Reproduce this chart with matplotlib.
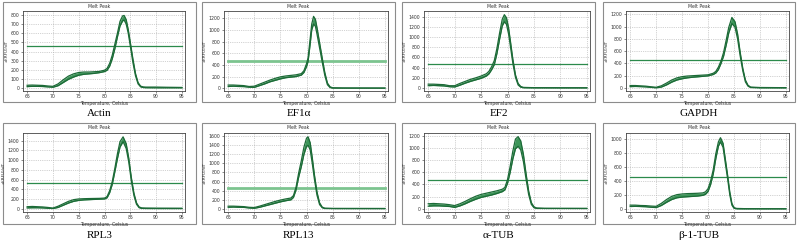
import matplotlib
matplotlib.use("Agg")
import matplotlib.pyplot as plt
from matplotlib.patches import Rectangle

# gene names, in panel order (row by row)
GENES = ["Actin", "EF1\u03b1", "EF2", "GAPDH", "RPL3", "RPL13", "\u03b1-TUB", "\u03b2-1-TUB"]

# melt peak traces: temperature, upper and lower replicate
ACTIN_T = [65, 66, 67, 68, 69, 70, 71, 72, 73, 74, 75, 76, 77, 78, 79, 80, 80.5, 81, 81.5, 82, 82.5, 83, 83.5,
           83.8, 84.2, 84.6, 85, 85.5, 86, 86.5, 87, 87.5, 88, 90, 92, 95]
ACTIN_HI = [30, 32, 30, 28, 22, 18, 45, 90, 130, 155, 170, 175, 175, 178, 182, 195, 215, 270, 360, 480, 600, 730, 790,
            795, 750, 640, 500, 320, 160, 60, 20, 12, 10, 10, 8, 6]
ACTIN_LO = [15, 18, 18, 16, 12, 8, 25, 60, 95, 120, 140, 150, 155, 160, 168, 180, 195, 240, 320, 430, 560, 680, 735,
            745, 700, 600, 460, 280, 135, 45, 12, 5, 3, 2, 2, 2]

EF1A_T = [65, 66, 67, 68, 69, 70, 71, 72, 73, 74, 75, 76, 77, 78, 79, 79.5, 80, 80.3, 80.7, 81, 81.35, 81.7, 82,
          82.5, 83, 83.5, 84, 84.5, 85, 87, 90, 95]
EF1A_HI = [55, 55, 50, 45, 30, 35, 70, 105, 140, 170, 195, 210, 220, 230, 250, 300, 420, 520, 850, 1100, 1230, 1180,
           1040, 780, 520, 270, 90, 25, 8, 5, 4, 3]
EF1A_LO = [30, 35, 30, 28, 18, 15, 45, 75, 110, 135, 160, 180, 190, 200, 225, 270, 370, 460, 760, 1000, 1100, 1060,
           930, 690, 450, 220, 60, 12, 3, 2, 2, 2]

EF2_T = [65, 66, 67, 68, 69, 70, 71, 72, 73, 74, 75, 76, 76.5, 77, 77.5, 78, 78.5, 79, 79.4, 79.8, 80.2, 80.6, 81,
         81.5, 82, 82.5, 83, 85, 90, 95]
EF2_HI = [75, 75, 70, 65, 45, 45, 90, 130, 170, 200, 235, 280, 330, 420, 540, 780, 1080, 1350, 1440, 1380, 1180, 880,
          570, 260, 90, 30, 12, 6, 5, 4]
EF2_LO = [45, 50, 45, 40, 25, 20, 55, 95, 130, 160, 190, 235, 280, 360, 460, 680, 960, 1220, 1300, 1250, 1060, 780,
          490, 210, 60, 15, 5, 3, 2, 2]

GAPDH_T = [65, 66, 67, 68, 69, 70, 71, 72, 73, 74, 75, 76, 77, 78, 79, 80, 81, 81.5, 82, 82.5, 83, 83.5, 84, 84.6,
           85.2, 85.7, 86.2, 86.7, 87.2, 87.7, 88.2, 90, 95]
GAPDH_HI = [40, 40, 35, 30, 20, 12, 35, 80, 130, 165, 185, 195, 200, 205, 210, 215, 240, 270, 340, 440, 580, 780, 990,
            1150, 1080, 880, 580, 320, 130, 45, 15, 8, 5]
GAPDH_LO = [22, 25, 22, 18, 10, 3, 15, 50, 95, 130, 150, 165, 175, 182, 190, 198, 220, 245, 300, 400, 520, 700, 900,
            1050, 990, 800, 520, 280, 100, 30, 8, 3, 2]

RPL3_T = [65, 66, 67, 68, 69, 70, 71, 72, 73, 74, 75, 76, 77, 78, 79, 80, 80.5, 81, 81.5, 82, 82.5, 83, 83.6, 84.2,
          84.7, 85.2, 85.7, 86.2, 86.7, 87.2, 88, 90, 95]
RPL3_HI = [40, 45, 40, 35, 25, 12, 50, 100, 150, 185, 200, 205, 208, 210, 212, 218, 250, 370, 560, 830, 1130, 1380,
           1480, 1340, 1040, 640, 320, 120, 35, 15, 12, 10, 8]
RPL3_LO = [15, 18, 18, 15, 8, 2, 25, 70, 115, 150, 170, 180, 185, 190, 195, 200, 225, 330, 500, 760, 1030, 1270, 1380,
           1240, 960, 570, 270, 90, 20, 5, 3, 2, 2]

RPL13_T = [65, 66, 67, 68, 69, 70, 71, 72, 73, 74, 75, 76, 77, 77.5, 78, 78.5, 79, 79.5, 80, 80.3, 80.7, 81.1, 81.5,
           82, 82.5, 83, 83.5, 85, 90, 95]
RPL13_HI = [55, 55, 50, 45, 30, 25, 55, 90, 125, 160, 190, 215, 235, 290, 480, 790, 1060, 1360, 1560, 1590, 1460, 1130,
            760, 370, 130, 35, 10, 5, 4, 3]
RPL13_LO = [30, 35, 30, 28, 15, 8, 30, 60, 90, 120, 150, 175, 195, 250, 420, 700, 930, 1200, 1380, 1400, 1300, 1000,
            660, 300, 90, 20, 4, 2, 2, 2]

ATUB_T = [65, 66, 67, 68, 69, 70, 71, 72, 73, 74, 75, 76, 77, 78, 79, 79.5, 80, 80.5, 81, 81.5, 82, 82.5, 83, 83.5,
          84, 84.5, 85, 85.5, 87, 90, 95]
ATUB_HI = [80, 85, 80, 75, 65, 50, 80, 120, 165, 205, 235, 255, 275, 295, 320, 350, 480, 700, 950, 1150, 1190, 1120,
           900, 580, 290, 100, 30, 10, 5, 4, 3]
ATUB_LO = [40, 45, 45, 40, 35, 20, 45, 80, 120, 155, 185, 205, 225, 250, 280, 310, 420, 600, 820, 990, 1030, 970, 780,
           490, 230, 70, 15, 4, 2, 2, 2]

BTUB_T = [65, 66, 67, 68, 69, 70, 71, 72, 73, 74, 75, 76, 77, 78, 79, 79.5, 80, 80.5, 81, 81.5, 82, 82.4, 82.9, 83.4,
          83.8, 84.2, 84.6, 85, 85.5, 87, 90, 95]
BTUB_HI = [55, 55, 50, 48, 42, 38, 80, 135, 180, 205, 215, 220, 222, 225, 230, 245, 290, 400, 560, 790, 960, 1020, 940,
           680, 470, 240, 80, 20, 8, 5, 4, 3]
BTUB_LO = [35, 38, 35, 32, 25, 20, 50, 95, 135, 160, 170, 175, 180, 185, 195, 210, 250, 350, 500, 720, 900, 960, 880,
           620, 420, 200, 55, 10, 3, 2, 2, 2]

TEMPS = [ACTIN_T, EF1A_T, EF2_T, GAPDH_T, RPL3_T, RPL13_T, ATUB_T, BTUB_T]
UPPER = [ACTIN_HI, EF1A_HI, EF2_HI, GAPDH_HI, RPL3_HI, RPL13_HI, ATUB_HI, BTUB_HI]
LOWER = [ACTIN_LO, EF1A_LO, EF2_LO, GAPDH_LO, RPL3_LO, RPL13_LO, ATUB_LO, BTUB_LO]

THRESHOLDS = [459, 466, 467, 458, 526, 461, 467, 457]
Y_TOPS = [800, 1200, 1400, 1200, 1400, 1600, 1200, 1000]
Y_STEPS = [100, 200, 200, 200, 200, 200, 200, 200]
Y_LIMITS = [(-33, 844), (-47, 1322), (-59, 1512), (-49, 1255), (-69, 1559), (-74, 1674), (-56, 1250), (-43, 1087)]
X_TICKS = [65, 70, 75, 80, 85, 90, 95]

W, H = 798, 242

# pixel layout (left, right) per column and (top, bottom) per row
BOX_X = [(3, 196), (202, 395), (402, 595), (603, 795)]
AX_X = [(23, 185), (224, 388), (424, 590), (626, 789)]
BOX_Y = [(2, 102), (123, 224)]
AX_Y = [(11, 91), (133, 212)]
LABEL_Y = [113, 236]

LINE_C = "#1c6a37"
FILL_C = "#3d9659"

fig = plt.figure(figsize=(W / 100, H / 100), dpi=100)
fig.patch.set_facecolor("white")

for i, gene in enumerate(GENES):
    row, col = divmod(i, 4)
    bx0, bx1 = BOX_X[col]
    by0, by1 = BOX_Y[row]
    fig.add_artist(Rectangle((bx0 / W, 1 - by1 / H), (bx1 - bx0) / W, (by1 - by0) / H,
                             transform=fig.transFigure, facecolor="none", edgecolor="#8c8c8c",
                             lw=0.8, zorder=-5))
    fig.text((bx0 + bx1) / 2 / W, 1 - (by0 + 4.5) / H, "Melt Peak", ha="center", va="center",
             fontsize=3.3, color="#333333")
    fig.text((bx0 + bx1) / 2 / W, 1 - LABEL_Y[row] / H, gene, ha="center", va="center",
             fontsize=8, family="Liberation Serif")

    ax0, ax1 = AX_X[col]
    ay0, ay1 = AX_Y[row]
    ax = fig.add_axes([ax0 / W, 1 - ay1 / H, (ax1 - ax0) / W, (ay1 - ay0) / H])

    t, hi, lo = TEMPS[i], UPPER[i], LOWER[i]
    ax.fill_between(t, lo, hi, color=FILL_C, lw=0, zorder=2)
    ax.plot(t, hi, color=LINE_C, lw=0.9, zorder=3)
    ax.plot(t, lo, color=LINE_C, lw=0.9, zorder=3)

    thick = gene in ("EF1\u03b1", "RPL13")
    ax.plot([65, 95], [THRESHOLDS[i], THRESHOLDS[i]],
            color="#7cc48f" if thick else "#2b8a4b", lw=2.0 if thick else 0.9, zorder=1.5)

    ax.set_xlim(64.2, 95.6)
    ax.set_ylim(*Y_LIMITS[i])
    ax.set_xticks(X_TICKS)
    ax.set_yticks(range(0, Y_TOPS[i] + 1, Y_STEPS[i]))
    ax.grid(True, linestyle=":", color="#a8a8a8", lw=0.5)
    ax.set_axisbelow(True)
    ax.tick_params(labelsize=3.3, length=1.5, width=0.4, pad=1, colors="#333333")
    for sp in ax.spines.values():
        sp.set_linewidth(0.6)
        sp.set_color("#444444")
    ax.set_xlabel("Temperature, Celsius", fontsize=3.3, labelpad=1, color="#333333")
    ax.set_ylabel("-d(RFU)/dT", fontsize=3.0, labelpad=1.5, color="#333333")

fig.savefig("out.png", dpi=100)
